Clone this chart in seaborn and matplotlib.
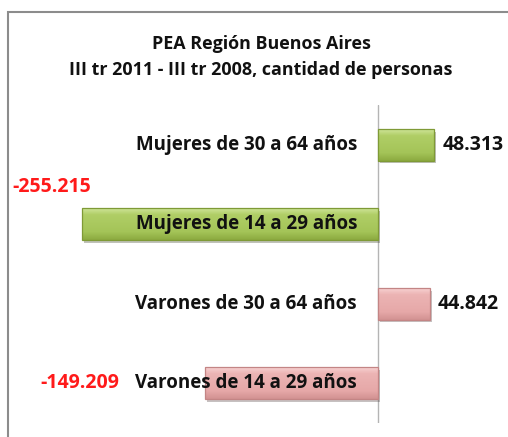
import numpy as np
import pandas as pd
import seaborn as sns
import matplotlib.pyplot as plt
import matplotlib.patheffects as pe
from matplotlib.patches import Rectangle
from matplotlib.colors import LinearSegmentedColormap

# Chart data
categorias = ['Mujeres de 30 a 64 años', 'Mujeres de 14 a 29 años',
              'Varones de 30 a 64 años', 'Varones de 14 a 29 años']
sexo = ['Mujeres', 'Mujeres', 'Varones', 'Varones']
variacion = [48313, -255215, 44842, -149209]
etiquetas = ['48.313', '-255.215', '44.842', '-149.209']

titulo = 'PEA Región Buenos Aires\nIII tr 2011 - III tr 2008, cantidad de personas'

df = pd.DataFrame({'categoria': categorias, 'sexo': sexo, 'variacion': variacion})

sns.set_style('white')
plt.rcParams['font.family'] = ['Open Sans', 'DejaVu Sans']

PT = 72 / 100  # pixels -> points

# bevel-ish gradients, top -> bottom (light top band, flat middle, darker bottom)
grad = {
    'Mujeres': LinearSegmentedColormap.from_list(
        'm', [(0, '#cfe59a'), (0.2, '#b0ce66'), (0.75, '#a4c458'), (1, '#8caa40')]),
    'Varones': LinearSegmentedColormap.from_list(
        'v', [(0, '#f8d2d2'), (0.2, '#ecb4b4'), (0.75, '#e6a8a8'), (1, '#d29292')]),
}
edge = {'Mujeres': '#7f9a36', 'Varones': '#c38585'}

fig = plt.figure(figsize=(5.08, 4.37), dpi=100)
# axes spans full width, zero line lands at ~378 px
ax = fig.add_axes([0, 14 / 437, 1, 318 / 437])

sns.barplot(data=df, y='categoria', x='variacion', hue='sexo',
            palette={'Mujeres': '#a2c44e', 'Varones': '#e6a4a4'},
            dodge=False, width=0.4, orient='h', legend=False, ax=ax,
            edgecolor='none', zorder=2)

scale = 1.16 / 1000  # px per person
xlim = (-378 / scale, 130 / scale)
ylim = ax.get_ylim()

for bar in ax.patches:
    if bar.get_width() == 0 and bar.get_height() == 0:
        continue
    key = 'Mujeres' if bar.get_facecolor()[1] > 0.7 else 'Varones'
    bar.set_path_effects([pe.withSimplePatchShadow(offset=(1.5, -2), alpha=0.3)])
    x0, y0, w, h = bar.get_x(), bar.get_y(), bar.get_width(), bar.get_height()
    img = ax.imshow(np.linspace(0, 1, 64).reshape(-1, 1), cmap=grad[key],
                    extent=[x0, x0 + w, y0 + h, y0], origin='upper',
                    aspect='auto', zorder=2.5)
    img.set_clip_path(bar)
    ax.add_patch(Rectangle((x0, y0), w, h, fill=False, edgecolor=edge[key],
                           lw=0.9, zorder=2.6))

ax.set_xlim(*xlim)
ax.set_ylim(*ylim)
ax.axvline(0, color='#b4b4b4', lw=1, zorder=1)

for spine in ax.spines.values():
    spine.set_visible(False)
ax.set_xticks([])
ax.set_yticks([])
ax.set_xlabel('')
ax.set_ylabel('')

# category labels, right aligned next to the zero line
for i, cat in enumerate(categorias):
    ax.annotate(cat, xy=(0, i), xytext=(-21 * PT, 0), textcoords='offset points',
                ha='right', va='center', fontsize=13.5, fontweight='bold',
                color='#111111', zorder=5)

# value labels (offsets in px)
offsets = [(9, 0), (-70, 37), (8, 0), (-165, 0)]
for i, (v, lab) in enumerate(zip(variacion, etiquetas)):
    color = '#111111' if v > 0 else '#ff1a1a'
    dx, dy = offsets[i]
    ax.annotate(lab, xy=(v, i), xytext=(dx * PT, dy * PT), textcoords='offset points',
                ha='left', va='center', fontsize=14, fontweight='bold',
                color=color, zorder=5)

fig.text(261 / 508, 1 - 57 / 437, titulo, ha='center', va='center',
         fontsize=12.9, fontweight='bold', color='#111111', linespacing=1.55)

# chart area border (extends past the right and bottom edges)
fig.patches.append(Rectangle((8 / 508, -0.1), 1.2, 1.1 - 12 / 437,
                             transform=fig.transFigure, fill=False,
                             edgecolor='#8c8c8c', lw=1.5))

fig.savefig('out.png', dpi=100)
